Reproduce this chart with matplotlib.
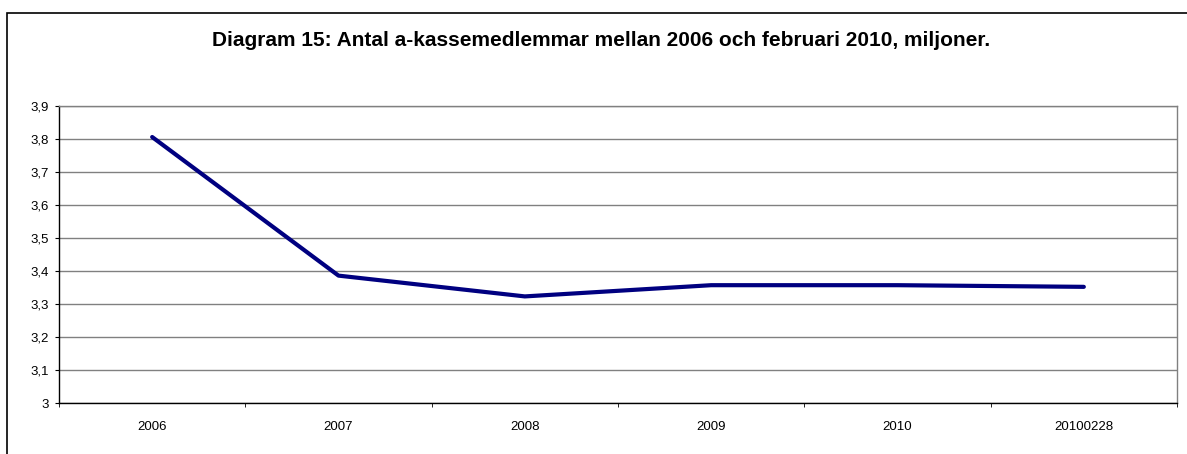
import matplotlib.pyplot as plt
from matplotlib.patches import Rectangle

categories = ['2006', '2007', '2008', '2009', '2010', '20100228']
members = [3.806, 3.386, 3.323, 3.357, 3.357, 3.352]
y_ticks = [3.0, 3.1, 3.2, 3.3, 3.4, 3.5, 3.6, 3.7, 3.8, 3.9]
y_labels = ['3', '3,1', '3,2', '3,3', '3,4', '3,5', '3,6', '3,7', '3,8', '3,9']

plt.rcParams['font.family'] = ['Liberation Sans', 'DejaVu Sans']

W, H = 1187, 454
fig = plt.figure(figsize=(W / 100, H / 100), dpi=100)

# outer chart border (runs off right/bottom edges)
fig.patches.append(Rectangle((7 / W, -0.1), 1.2, 1 - 13 / H + 0.1, transform=fig.transFigure,
                             fill=False, edgecolor='black', linewidth=1.2))

ax = fig.add_axes([59 / W, 1 - 403 / H, (1177 - 59) / W, (403 - 106) / H])
x = list(range(len(categories)))
ax.plot(x, members, color='#000080', linewidth=3, solid_capstyle='round', zorder=3)

ax.set_xlim(-0.5, len(categories) - 0.5)
ax.set_ylim(3.0, 3.9)
ax.set_yticks(y_ticks)
ax.set_yticklabels(y_labels, fontsize=9.5)
ax.set_xticks(x)
ax.set_xticklabels(categories, fontsize=9.5)
ax.tick_params(axis='x', length=0, pad=13)
ax.set_xticks([i - 0.5 for i in range(len(categories) + 1)], minor=True)
ax.tick_params(axis='x', which='minor', length=3, direction='out', color='black')
ax.tick_params(axis='y', length=3, direction='out', pad=4)

ax.grid(axis='y', color='#808080', linewidth=1)
ax.set_axisbelow(True)
ax.spines['top'].set_color('#808080')
ax.spines['right'].set_color('#808080')
ax.spines['left'].set_color('black')
ax.spines['bottom'].set_color('black')
for s in ax.spines.values():
    s.set_linewidth(1)

fig.text(601 / W, 1 - 40 / H, 'Diagram 15: Antal a-kassemedlemmar mellan 2006 och februari 2010, miljoner.',
         ha='center', va='center', fontsize=15, fontweight='bold')

fig.savefig('out.png', dpi=100)
